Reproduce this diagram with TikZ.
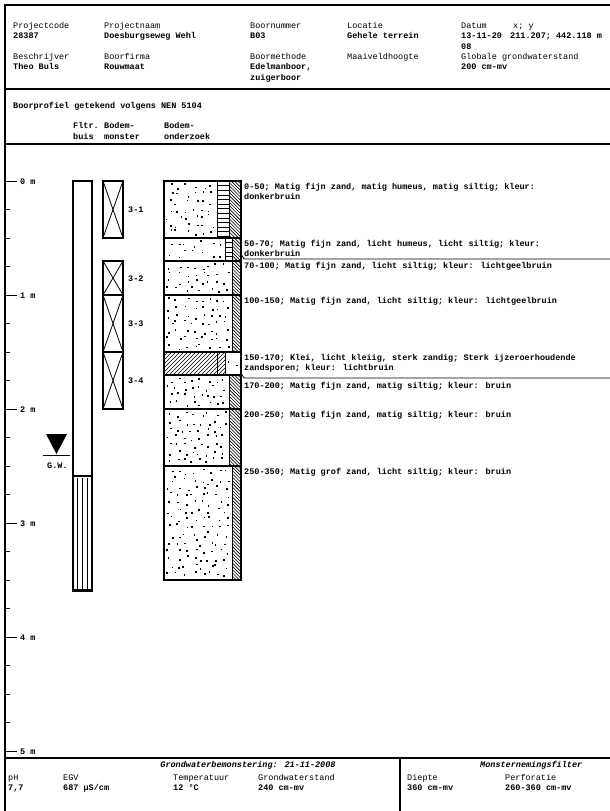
\documentclass[tikz,border=0pt]{standalone}
\usepackage{fontspec}
\setmainfont{Liberation Mono}
\setmonofont{Liberation Mono}
\newcommand{\SandFill}[4]{%
  \pgfmathtruncatemacro{\nx}{(#3-#1-3)/7.5-1}%
  \pgfmathtruncatemacro{\ny}{(#4-#2-3)/7.5-1}%
  \pgfmathsetmacro{\gx}{(#3-#1-3.5)/(\nx+1)}%
  \pgfmathsetmacro{\gy}{(#4-#2-3.5)/(\ny+1)}%
  \foreach \i in {0,...,\nx}{\foreach \j in {0,...,\ny}{%
    \pgfmathsetmacro{\px}{#1+1.8+\i*\gx+rnd*(\gx-1.6)}%
    \pgfmathsetmacro{\py}{#2+1.8+\j*\gy+rnd*(\gy-1.6)}%
    \fill (\px,\py) rectangle ++(1.6,1.6);}}}
\newcommand{\SiltFill}[4]{%
  \begin{scope}
  \clip (#1,#2) rectangle (#3,#4);
  \pgfmathtruncatemacro{\nl}{(#4-#2+#3-#1)/3.3+2}%
  \foreach \i in {0,...,\nl}{\draw[hatchline] (#1,{#2-(#3-#1)+\i*3.3}) -- ++({#3-#1},{#3-#1});}
  \end{scope}}
\newcommand{\ClayFill}[4]{%
  \begin{scope}
  \clip (#1,#2) rectangle (#3,#4);
  \pgfmathtruncatemacro{\nl}{(#4-#2+#3-#1)/4+2}%
  \foreach \i in {0,...,\nl}{\draw[hatchline] (#1,{#2+\i*4}) -- ++({#3-#1},{-(#3-#1)});}
  \end{scope}}
\newcommand{\HumusFill}[4]{%
  \begin{scope}
  \clip (#1,#2) rectangle (#3,#4);
  \pgfmathtruncatemacro{\nl}{(#4-#2)/4.6+1}%
  \foreach \i in {1,...,\nl}{\draw[hatchline] (#1,{#2+\i*4.6}) -- (#3,{#2+\i*4.6});}
  \end{scope}}
\begin{document}
\begin{tikzpicture}[x=1pt,y=-1pt,
  lab/.style={anchor=base west,inner sep=0pt,font=\fontsize{8.5}{10}\selectfont},
  val/.style={anchor=base west,inner sep=0pt,font=\fontsize{8.5}{10}\selectfont\bfseries},
  bi/.style={inner sep=0pt,font=\fontsize{8.5}{10}\selectfont\bfseries\itshape},
  frame/.style={line width=1.2pt},
  box/.style={line width=1.3pt},
  thinline/.style={line width=0.8pt},
  hatchline/.style={line width=0.6pt},
  tick/.style={line width=0.9pt}]
\pgfmathsetseed{4711}
\useasboundingbox (0,0) rectangle (610,811);
\fill[white] (0,0) rectangle (610,811);
% frame
\draw[frame] (610,5) -- (5,5) -- (5,811);
\draw[frame] (5,89) -- (610,89);
\draw[frame] (5,144) -- (610,144);
\draw[frame] (5,758) -- (610,758);
\draw[frame] (400,758) -- (400,811);
% header
\node[lab] (h1) at (13,28) {Projectcode};
\node[val] (v1) at (13,38) {28387};
\node[lab] (h2) at (104,28) {Projectnaam};
\node[val] (v2) at (104,38) {Doesburgseweg Wehl};
\node[lab] (h3) at (250,28) {Boornummer};
\node[val] (v3) at (250,38) {B03};
\node[lab] (h4) at (347,28) {Locatie};
\node[val] (v4) at (347,38) {Gehele terrein};
\node[lab] (h5) at (461,28) {Datum};
\node[lab] (h6) at (513,28) {x; y};
\node[val] (v5) at (461,38) {13-11-20};
\node[val] (v6) at (510,38) {211.207; 442.118 m};
\node[val] (v5b) at (461,49) {08};
\node[lab] (h7) at (13,59) {Beschrijver};
\node[val] (v7) at (13,69) {Theo Buls};
\node[lab] (h8) at (104,59) {Boorfirma};
\node[val] (v8) at (104,69) {Rouwmaat};
\node[lab] (h9) at (250,59) {Boormethode};
\node[val] (v9) at (250,69) {Edelmanboor,};
\node[val] (v9b) at (250,80) {zuigerboor};
\node[lab] (h10) at (347,59) {Maaiveldhoogte};
\node[lab] (h11) at (461,59) {Globale grondwaterstand};
\node[val] (v11) at (461,69) {200 cm-mv};
\node[val] (title) at (13,108) {Boorprofiel getekend volgens NEN 5104};
\node[val] (c1a) at (73,128) {Fltr.};
\node[val] (c1b) at (73,139) {buis};
\node[val] (c2a) at (104,128) {Bodem-};
\node[val] (c2b) at (104,139) {monster};
\node[val] (c3a) at (164,128) {Bodem-};
\node[val] (c3b) at (164,139) {onderzoek};
% depth scale
\foreach \q in {1,...,19} {\draw[tick] (5,{181+28.5*\q}) -- (10,{181+28.5*\q});}
\foreach \m in {0,...,5} {
  \draw[tick] (5,{181+114*\m}) -- (17,{181+114*\m});
  \node[val] (m\m) at (20,{184+114*\m}) {\m\ m};}
% filter tube
\draw[box] (73,181) rectangle (92,591);
\draw[box] (73,476) -- (92,476);
\foreach \xx in {77.5,82.5,87.5} {\draw[thinline] (\xx,478) -- (\xx,589);}
\draw[line width=2.4pt] (73,590) -- (92,590);
% samples
\foreach \t/\b/\n in {181/238/3-1,261/295/3-2,295/352/3-3,352/409/3-4} {
  \draw[box] (103,\t) rectangle (123,\b);
  \draw[thinline] (103,\t) -- (123,\b) (123,\t) -- (103,\b);
  \node[val] (s\n) at (128,{(\t+\b)/2+3}) {\n};}
% soil column
% 0-50
\SandFill{164}{181}{217}{238}
\HumusFill{217}{181}{229}{238}
\SiltFill{229}{181}{241}{238}
\draw[thinline] (217,181) -- (217,238) (229,181) -- (229,238);
\draw[box] (164,181) rectangle (241,238);
% 50-70
\SandFill{164}{238}{225}{261}
\HumusFill{225}{238}{232}{261}
\SiltFill{232}{238}{241}{261}
\draw[thinline] (225,238) -- (225,261) (232,238) -- (232,261);
\draw[box] (164,238) rectangle (241,261);
% 70-100
\SandFill{164}{261}{232}{295}
\SiltFill{232}{261}{241}{295}
\draw[thinline] (232,261) -- (232,295);
\draw[box] (164,261) rectangle (241,295);
% 100-150
\SandFill{164}{295}{232}{352}
\SiltFill{232}{295}{241}{352}
\draw[thinline] (232,295) -- (232,352);
\draw[box] (164,295) rectangle (241,352);
% 150-170
\ClayFill{164}{352}{217}{375}
\ClayFill{217}{352}{225}{375}
\SandFill{225}{352}{241}{375}
\draw[thinline] (217,352) -- (217,375) (225,352) -- (225,375);
\draw[box] (164,352) rectangle (241,375);
% 170-200
\SandFill{164}{375}{229}{409}
\SiltFill{229}{375}{241}{409}
\draw[thinline] (229,375) -- (229,409);
\draw[box] (164,375) rectangle (241,409);
% 200-250
\SandFill{164}{409}{229}{466}
\SiltFill{229}{409}{241}{466}
\draw[thinline] (229,409) -- (229,466);
\draw[box] (164,409) rectangle (241,466);
% 250-350
\SandFill{164}{466}{232}{580}
\SiltFill{232}{466}{241}{580}
\draw[thinline] (232,466) -- (232,580);
\draw[box] (164,466) rectangle (241,580);
% descriptions
\node[val] (d1) at (244,189) {0-50; Matig fijn zand, matig humeus, matig siltig; kleur:};
\node[val] (d1b) at (244,199) {donkerbruin};
\node[val] (d2) at (244,246) {50-70; Matig fijn zand, licht humeus, licht siltig; kleur:};
\node[val] (d2b) at (244,256) {donkerbruin};
\coordinate (l1a) at (241,254);
\coordinate (l1b) at (244,259);
\coordinate (l1c) at (610,259);
\draw[thinline] (l1a) -- (l1b) -- (l1c);
\node[val] (d3) at (244,268) {70-100; Matig fijn zand, licht siltig; kleur: lichtgeelbruin};
\node[val] (d4) at (244,303) {100-150; Matig fijn zand, licht siltig; kleur: lichtgeelbruin};
\node[val] (d5) at (244,360) {150-170; Klei, licht kleiig, sterk zandig; Sterk ijzeroerhoudende};
\node[val] (d5b) at (244,370) {zandsporen; kleur: lichtbruin};
\coordinate (l2a) at (241,373);
\coordinate (l2b) at (244,378);
\coordinate (l2c) at (610,378);
\draw[thinline] (l2a) -- (l2b) -- (l2c);
\node[val] (d6) at (244,388) {170-200; Matig fijn zand, matig siltig; kleur: bruin};
\node[val] (d7) at (244,417) {200-250; Matig fijn zand, matig siltig; kleur: bruin};
\node[val] (d8) at (244,474) {250-350; Matig grof zand, licht siltig; kleur: bruin};
% groundwater
\fill (46,434) -- (67,434) -- (56.5,454) -- cycle;
\draw[thinline] (43,455) -- (70,455);
\node[val] (gw) at (47,468) {G.W.};
% bottom table
\node[bi,anchor=base] (gb) at (248,767) {Grondwaterbemonstering: 21-11-2008};
\node[bi,anchor=base west] (mf) at (480,767) {Monsternemingsfilter};
\node[lab] (b1) at (8,780) {pH};
\node[val] (bv1) at (8,790) {7,7};
\node[lab] (b2) at (63,780) {EGV};
\node[val] (bv2) at (63,790) {687 µS/cm};
\node[lab] (b3) at (173,780) {Temperatuur};
\node[val] (bv3) at (173,790) {12 °C};
\node[lab] (b4) at (258,780) {Grondwaterstand};
\node[val] (bv4) at (258,790) {240 cm-mv};
\node[lab] (b5) at (407,780) {Diepte};
\node[val] (bv5) at (407,790) {360 cm-mv};
\node[lab] (b6) at (505,780) {Perforatie};
\node[val] (bv6) at (505,790) {260-360 cm-mv};
\end{tikzpicture}
\end{document}
